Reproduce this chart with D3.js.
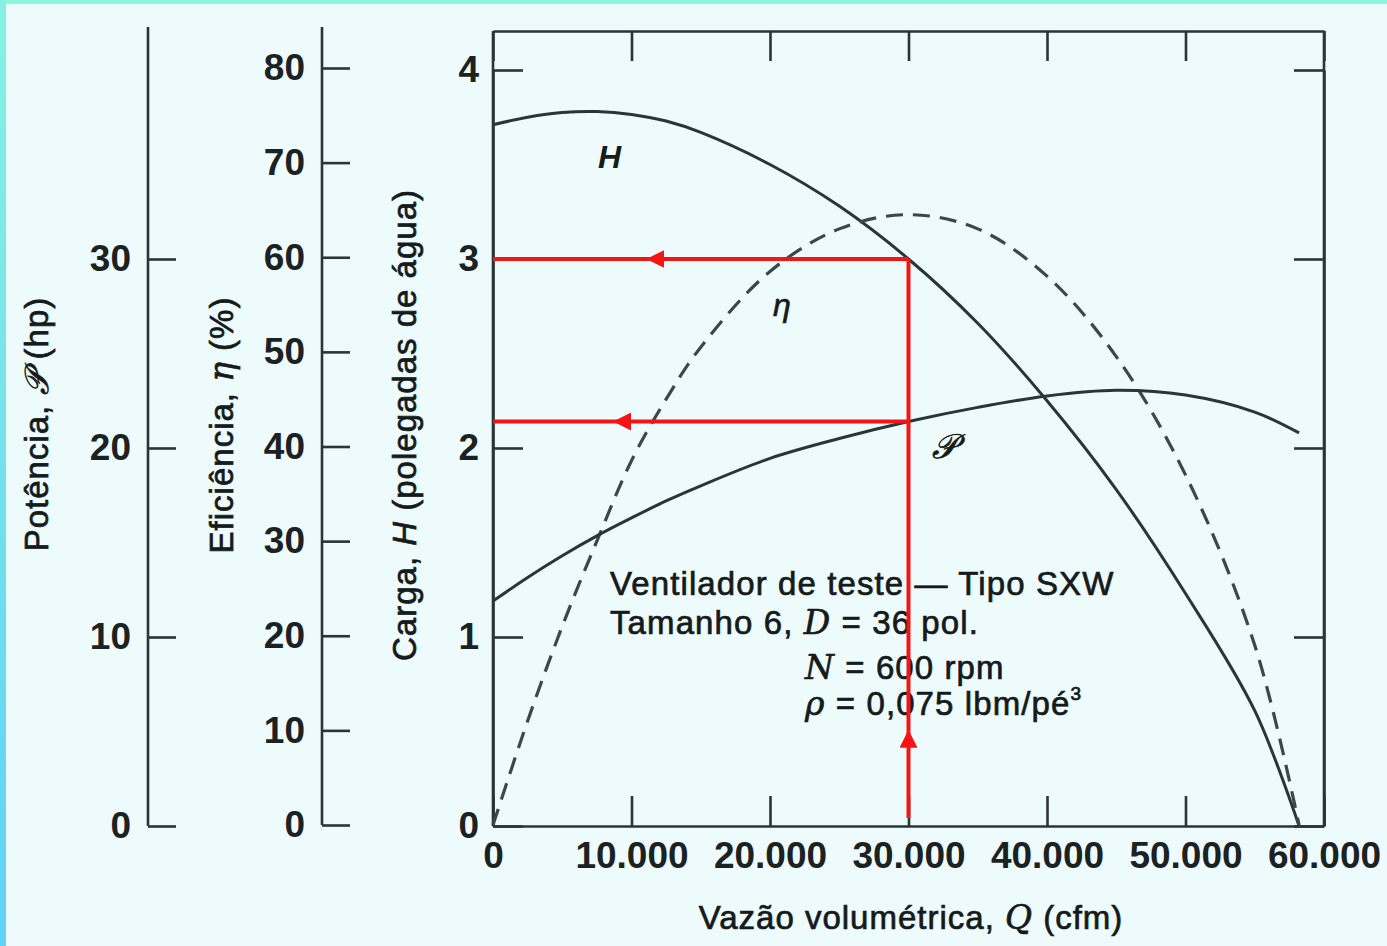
<!DOCTYPE html>
<html>
<head>
<meta charset="utf-8">
<script src="https://cdn.jsdelivr.net/npm/d3@7"></script>
<style>
  html, body { margin: 0; padding: 0; }
  body { width: 1387px; height: 946px; overflow: hidden; background: #edfbfd; }
  svg { display: block; }
  text { font-family: "Liberation Sans", Arial, sans-serif; fill: #151a1a; }
  .tick text { font-size: 37px; font-weight: bold; fill: #1c2222; }
  .heavy { stroke: #151a1a; stroke-width: 0.7px; }
  .axis path, .axis line { stroke: #2b3535; stroke-width: 2.6px; }
</style>
</head>
<body>
<svg id="chart" width="1387" height="946"></svg>
<script>
(function () {

  'use strict';

  var Q_FLOW = [0, 2500, 5000, 7500, 10000, 12500, 15000, 20000, 25000, 30000, 35000, 40000, 45000, 50000, 55000, 58200];
  var HEAD = [3.71, 3.75, 3.775, 3.78, 3.765, 3.73, 3.67, 3.50, 3.28, 3.00, 2.66, 2.25, 1.78, 1.23, 0.61, 0]; // in. water
  var EFFICIENCY = [0, 11, 21, 30, 38.5, 45, 50.5, 58.5, 63, 64.5, 63, 58, 49.5, 37, 19, 0]; // %
  var POWER = [11.9, 13.15, 14.3, 15.35, 16.3, 17.2, 18.0, 19.45, 20.5, 21.4, 22.15, 22.75, 23.05, 22.8, 21.9, 20.8]; // hp

  var Q_TICKS = [0, 10000, 20000, 30000, 40000, 50000, 60000];
  var H_TICKS = [0, 1, 2, 3, 4];
  var ETA_TICKS = [0, 10, 20, 30, 40, 50, 60, 70, 80];
  var P_TICKS = [0, 10, 20, 30];

  // operating point marked in red
  var OP_Q = 30000;
  var OP_H = 3.0;
  var OP_P = 21.4;

  var svg = d3.select('#chart');
  var ink = '#2b3535';

  var ptBr = d3.formatLocale({decimal: ',', thousands: '.', grouping: [3], currency: ['R$', '']});
  var fmtQ = ptBr.format(',d');

  var x = d3.scaleLinear().domain([0, 60000]).range([493, 1324]);
  var yH = d3.scaleLinear().domain([0, 4]).range([826, 70]);
  var yEta = d3.scaleLinear().domain([0, 80]).range([825, 68]);
  var yP = d3.scaleLinear().domain([0, 40]).range([826, 70]);

  // ----------- BORDER STRIPS --------------

  var grad = svg.append('defs').append('linearGradient')
    .attr('id', 'leftStrip').attr('x1', 0).attr('y1', 0).attr('x2', 0).attr('y2', 1);
  grad.append('stop').attr('offset', '0%').attr('stop-color', '#86f1e2');
  grad.append('stop').attr('offset', '100%').attr('stop-color', '#5fd2f8');

  svg.append('rect').attr('x', 0).attr('y', 0).attr('width', 1387).attr('height', 4).attr('fill', '#8ef5df');
  svg.append('rect').attr('x', 0).attr('y', 0).attr('width', 6).attr('height', 946).attr('fill', 'url(#leftStrip)');

  // ----------- MAIN FRAME --------------

  svg.append('g').attr('class', 'axis')
    .attr('transform', 'translate(0,' + yH(0) + ')')
    .call(d3.axisBottom(x).tickValues(Q_TICKS).tickSize(-30).tickSizeOuter(0).tickPadding(16).tickFormat(fmtQ));

  svg.append('g').attr('class', 'axis')
    .attr('transform', 'translate(0,31)')
    .call(d3.axisTop(x).tickValues(Q_TICKS).tickSize(-30).tickSizeOuter(0).tickFormat(''));

  svg.append('g').attr('class', 'axis')
    .attr('transform', 'translate(' + x(0) + ',0)')
    .call(d3.axisLeft(yH).tickValues(H_TICKS).tickSize(-30).tickSizeOuter(0).tickPadding(14).tickFormat(d3.format('d')));

  svg.append('g').attr('class', 'axis')
    .attr('transform', 'translate(' + x(60000) + ',0)')
    .call(d3.axisRight(yH).tickValues(H_TICKS).tickSize(-30).tickSizeOuter(0).tickFormat(''));

  // close the frame sides
  svg.append('line').attr('x1', x(0)).attr('x2', x(0)).attr('y1', 31).attr('y2', yH(0)).attr('stroke', ink).attr('stroke-width', 2.6);
  svg.append('line').attr('x1', x(60000)).attr('x2', x(60000)).attr('y1', 31).attr('y2', yH(0)).attr('stroke', ink).attr('stroke-width', 2.6);

  // ----------- SIDE AXES (efficiency and power) --------------

  function sideAxis(xPos, scale, ticks) {
    var g = svg.append('g').attr('class', 'axis')
      .attr('transform', 'translate(' + xPos + ',0)')
      .call(d3.axisRight(scale).tickValues(ticks).tickSize(28).tickSizeOuter(0));
    g.select('.domain').remove();
    g.selectAll('.tick text').attr('x', -17).attr('text-anchor', 'end');
    g.append('line').attr('x1', 0).attr('x2', 0).attr('y1', 27).attr('y2', scale(0))
      .attr('stroke', ink).attr('stroke-width', 2.6);
    return g;
  }

  sideAxis(322, yEta, ETA_TICKS);
  sideAxis(148, yP, P_TICKS);

  // ----------- CURVES --------------

  var rows = Q_FLOW.map(function (q, i) {
    return {q: q, h: HEAD[i], eta: EFFICIENCY[i], p: POWER[i]};
  });

  var headLine = d3.line().curve(d3.curveCatmullRom)
    .x(function (d) { return x(d.q); }).y(function (d) { return yH(d.h); });
  var etaLine = d3.line().curve(d3.curveCatmullRom)
    .x(function (d) { return x(d.q); }).y(function (d) { return yEta(d.eta); });
  var powerLine = d3.line().curve(d3.curveCatmullRom)
    .x(function (d) { return x(d.q); }).y(function (d) { return yP(d.p); });

  svg.append('path').datum(rows).attr('d', headLine)
    .attr('fill', 'none').attr('stroke', ink).attr('stroke-width', 3);
  svg.append('path').datum(rows).attr('d', etaLine)
    .attr('fill', 'none').attr('stroke', '#3a4848').attr('stroke-width', 3.2).attr('stroke-dasharray', '17 10');
  svg.append('path').datum(rows).attr('d', powerLine)
    .attr('fill', 'none').attr('stroke', ink).attr('stroke-width', 3);

  // curve names
  svg.append('text').attr('x', 598).attr('y', 168).attr('font-size', 32)
    .attr('font-style', 'italic').attr('font-weight', 'bold').text('H');
  svg.append('text').attr('x', 773).attr('y', 316).attr('font-size', 32).attr('class', 'heavy')
    .attr('font-style', 'italic').attr('font-family', '"DejaVu Serif", serif').text('η');
  svg.append('text').attr('x', 932).attr('y', 458).attr('font-size', 34).attr('class', 'heavy')
    .attr('font-family', '"DejaVu Serif", serif').attr('font-style', 'italic').text('𝒫');

  // ----------- TEST NOTE --------------

  var note = svg.append('g').attr('font-size', 33).attr('letter-spacing', 1.1).attr('class', 'heavy');
  note.append('text').attr('x', 610).attr('y', 595).text('Ventilador de teste — Tipo SXW');
  var t2 = note.append('text').attr('x', 610).attr('y', 634);
  t2.append('tspan').text('Tamanho 6, ');
  t2.append('tspan').attr('font-style', 'italic').attr('font-family', '"DejaVu Serif", serif').text('D');
  t2.append('tspan').text(' = 36 pol.');
  var t3 = note.append('text').attr('x', 805).attr('y', 679);
  t3.append('tspan').attr('font-style', 'italic').attr('font-family', '"DejaVu Serif", serif').text('N');
  t3.append('tspan').text(' = 600 rpm');
  var t4 = note.append('text').attr('x', 805).attr('y', 715);
  t4.append('tspan').attr('font-style', 'italic').attr('font-family', '"DejaVu Serif", serif').text('ρ');
  t4.append('tspan').text(' = 0,075 lbm/pé');
  t4.append('tspan').attr('font-size', 19).attr('dy', -15).text('3');

  // ----------- AXIS TITLES --------------

  function vTitle(cx, cy, parts) {
    var t = svg.append('text').attr('font-size', 33).attr('letter-spacing', 1).attr('class', 'heavy')
      .attr('text-anchor', 'middle')
      .attr('transform', 'translate(' + cx + ',' + cy + ') rotate(-90)');
    parts.forEach(function (p) {
      var s = t.append('tspan').text(p[0]);
      if (p[1]) { s.attr('font-style', 'italic').attr('font-family', p[2] || '"DejaVu Serif", serif'); }
    });
  }

  vTitle(48, 424, [['Potência, '], ['𝒫', true], [' (hp)']]);
  vTitle(233, 425, [['Eficiência, '], ['η', true], [' (%)']]);
  vTitle(416, 425, [['Carga, '], ['H', true, '"Liberation Sans", Arial, sans-serif'], [' (polegadas de água)']]);

  var xt = svg.append('text').attr('font-size', 33).attr('letter-spacing', 1).attr('class', 'heavy')
    .attr('text-anchor', 'middle').attr('x', 911).attr('y', 929);
  xt.append('tspan').text('Vazão volumétrica, ');
  xt.append('tspan').attr('font-style', 'italic').attr('font-family', '"DejaVu Serif", serif').text('Q');
  xt.append('tspan').text(' (cfm)');

  // ----------- OPERATING POINT (red) --------------

  var red = '#f51414';
  svg.append('defs').append('marker')
    .attr('id', 'arrow').attr('viewBox', '0 0 10 10').attr('refX', 9).attr('refY', 5)
    .attr('markerWidth', 4.5).attr('markerHeight', 4.5).attr('orient', 'auto')
    .append('path').attr('d', 'M0,0L10,5L0,10Z').attr('fill', red);

  function redSeg(x1, y1, x2, y2, arrow) {
    var l = svg.append('line').attr('x1', x1).attr('y1', y1).attr('x2', x2).attr('y2', y2)
      .attr('stroke', red).attr('stroke-width', 4);
    if (arrow) { l.attr('marker-end', 'url(#arrow)'); }
  }

  var qx = x(OP_Q);
  redSeg(qx, yH(0) - 8, qx, yH(0.5), true);
  redSeg(qx, yH(0.5), qx, yH(OP_H), false);
  redSeg(qx, yH(OP_H), x(11200), yH(OP_H), true);
  redSeg(x(11200), yH(OP_H), x(0), yH(OP_H), false);
  redSeg(qx, yP(OP_P), x(8800), yP(OP_P), true);
  redSeg(x(8800), yP(OP_P), x(0), yP(OP_P), false);

})();
</script>
</body>
</html>
